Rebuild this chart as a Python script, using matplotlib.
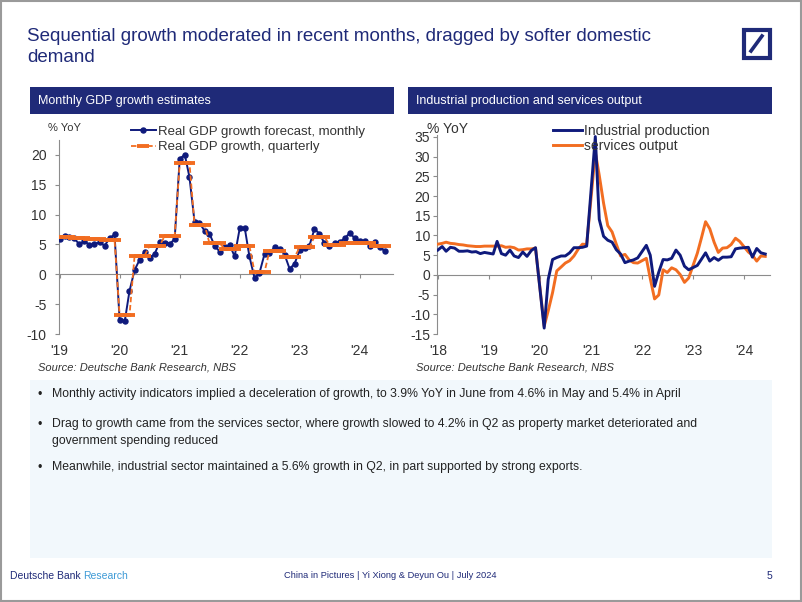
import numpy as np
import pandas as pd
import matplotlib
matplotlib.use("Agg")
import matplotlib.pyplot as plt
import matplotlib.patches as mpatches
from matplotlib import font_manager

# ---- data -------------------------------------------------------------
gdp_monthly = [
    5.9, 6.4, 6.3, 6.0, 5.0, 5.6, 4.9, 5.0, 5.4, 4.8, 6.0, 6.7,          # 2019
    -7.6, -7.9, -2.8, 0.7, 2.4, 3.8, 2.8, 3.4, 5.4, 5.3, 5.1, 5.9,       # 2020
    19.4, 20.0, 16.3, 8.8, 8.6, 7.3, 6.8, 4.8, 3.8, 4.6, 4.9, 3.0,       # 2021
    7.7, 7.7, 3.0, -0.6, 0.2, 3.4, 3.6, 4.5, 4.3, 3.3, 0.9, 1.8,         # 2022
    4.0, 4.4, 4.8, 7.6, 6.8, 5.2, 4.7, 5.3, 5.4, 6.0, 6.9, 6.1,          # 2023
    5.6, 5.6, 4.8, 5.4, 4.6, 3.9,                                        # 2024
]
gdp_quarterly = [6.3, 6.0, 5.9, 5.8, -6.9, 3.1, 4.8, 6.4, 18.7, 8.3, 5.2, 4.3,
                 4.8, 0.4, 3.9, 2.9, 4.5, 6.3, 4.9, 5.2, 5.3, 4.7]

nan = np.nan
industrial = [
    6.3, 7.2, 6.0, 7.0, 6.8, 6.0, 6.0, 6.1, 5.8, 5.9, 5.4, 5.7,          # 2018
    nan, 5.3, 8.5, 5.4, 5.0, 6.3, 4.8, 4.4, 5.8, 4.7, 6.2, 6.9,          # 2019
    nan, -13.5, -1.1, 3.9, 4.4, 4.8, 4.8, 5.6, 6.9, 6.9, 7.0, 7.3,       # 2020
    nan, 35.1, 14.1, 9.8, 8.8, 8.3, 6.4, 5.3, 3.1, 3.5, 3.8, 4.3,        # 2021
    nan, 7.5, 5.0, -2.9, 0.7, 3.9, 3.8, 4.2, 6.3, 5.0, 2.2, 1.3,         # 2022
    nan, 2.4, 3.9, 5.6, 3.5, 4.4, 3.7, 4.5, 4.5, 4.6, 6.6, 6.8,          # 2023
    nan, 7.0, 4.5, 6.7, 5.6, 5.3,                                        # 2024
]
services = [
    7.8, 8.0, 8.3, 8.0, 7.9, 7.7, 7.6, 7.4, 7.3, 7.2, 7.2, 7.3,          # 2018
    nan, 7.3, 7.3, 7.4, 7.0, 7.1, 6.9, 6.3, 6.4, 6.6, 6.6, 6.8,          # 2019
    nan, -13.0, -9.1, -4.5, 1.0, 2.0, 3.0, 3.6, 4.8, 6.5, 7.8, 7.7,      # 2020
    nan, 31.1, 25.3, 18.2, 12.5, 10.9, 7.8, 4.8, 5.2, 3.8, 3.1, 3.0,     # 2021
    nan, 4.2, -0.9, -6.1, -5.1, 1.3, 0.6, 1.8, 1.3, 0.1, -1.9, -0.8,     # 2022
    nan, 5.5, 9.2, 13.5, 11.7, 8.3, 5.7, 6.8, 6.9, 7.7, 9.3, 8.5,        # 2023
    nan, 5.8, 5.0, 3.5, 4.8, 4.7,                                        # 2024
]

left_years = ["'19", "'20", "'21", "'22", "'23", "'24"]
right_years = ["'18", "'19", "'20", "'21", "'22", "'23", "'24"]

title = "Sequential growth moderated in recent months, dragged by softer domestic\ndemand"
bullets = [
    "Monthly activity indicators implied a deceleration of growth, to 3.9% YoY in June from 4.6% in May and 5.4% in April",
    "Drag to growth came from the services sector, where growth slowed to 4.2% in Q2 as property market deteriorated and\ngovernment spending reduced",
    "Meanwhile, industrial sector maintained a 5.6% growth in Q2, in part supported by strong exports.",
]

# ---- style -------------------------------------------------------------
NAVY = "#1f2a78"
LINE_NAVY = "#0f1a7c"
ORANGE = "#f26d21"
GREY = "#8c8c8c"
TXT = "#333333"

_names = {f.name for f in font_manager.fontManager.ttflist}
NARROW = "Liberation Sans Narrow" if "Liberation Sans Narrow" in _names else "Liberation Sans"
CHART = "Liberation Sans"
plt.rcParams["font.family"] = [CHART, "DejaVu Sans"]
plt.rcParams["axes.unicode_minus"] = False

W, H = 802, 602


def rect(x0, y0, x1, y1):
    """pixel box (top-left origin) -> figure fraction [l, b, w, h]"""
    return [x0 / W, 1 - y1 / H, (x1 - x0) / W, (y1 - y0) / H]


def fx(x):
    return x / W


def fy(y):
    return 1 - y / H


fig = plt.figure(figsize=(W / 100, H / 100), dpi=100)
fig.patch.set_facecolor("white")

# page frame
fig.patches.append(mpatches.Rectangle((0.001, 0.001), 0.998, 0.997, transform=fig.transFigure,
                                      fill=False, edgecolor="#9a9a9a", linewidth=1.5))

# title
fig.text(fx(27), fy(28), title, family=NARROW, fontsize=13.5, color=NAVY,
         va="top", ha="left", linespacing=1.3)

# logo
fig.patches.append(mpatches.Rectangle((fx(744), fy(58)), 26 / W, 28 / H, transform=fig.transFigure,
                                      fill=False, edgecolor=NAVY, linewidth=3))
fig.lines.append(plt.Line2D([fx(751), fx(762)], [fy(51), fy(36)], transform=fig.transFigure,
                            color=NAVY, linewidth=2.6))

# panel headers
for x0, x1, label in [(30, 394, "Monthly GDP growth estimates"),
                      (408, 772, "Industrial production and services output")]:
    fig.patches.append(mpatches.Rectangle((fx(x0), fy(114)), (x1 - x0) / W, 27 / H,
                                          transform=fig.transFigure, facecolor=NAVY,
                                          edgecolor="none"))
    fig.text(fx(x0 + 8), fy(101), label, family=NARROW, fontsize=9, color="white",
             va="center", ha="left")

# ---- left chart -------------------------------------------------------
m_dates = pd.date_range("2019-01-01", periods=len(gdp_monthly), freq="MS")
q_values = np.repeat(gdp_quarterly, 3)[:len(gdp_monthly)]

ax1 = fig.add_axes(rect(59, 140, 393, 334))
ax1.plot(m_dates, gdp_monthly, color=LINE_NAVY, linewidth=1.4, marker="o",
         markersize=3.6, label="Real GDP growth forecast, monthly", zorder=3)
ax1.plot(m_dates, q_values, color=ORANGE, linewidth=1.3, linestyle=(0, (3, 1.5)),
         marker="_", markersize=8, markeredgewidth=2.8,
         label="Real GDP growth, quarterly", zorder=4)

ax1.set_ylim(-10, 22.5)
ax1.set_yticks([-10, -5, 0, 5, 10, 15, 20])
ax1.set_xlim(pd.Timestamp("2018-12-28"), pd.Timestamp("2024-07-22"))
ax1.set_xticks(pd.date_range("2019-01-01", "2024-01-01", freq="YS"))
ax1.set_xticklabels(left_years)

# ---- right chart ------------------------------------------------------
r_dates = pd.date_range("2018-01-01", periods=len(industrial), freq="MS")
ip = pd.Series(industrial, index=r_dates).dropna()
sv = pd.Series(services, index=r_dates).dropna()

ax2 = fig.add_axes(rect(437, 135, 770, 334))
ax2.plot(sv.index, sv.values, color=ORANGE, linewidth=2.1, zorder=3)
ax2.plot(ip.index, ip.values, color=LINE_NAVY, linewidth=2.1, zorder=4)
ax2.set_ylim(-15, 35.5)
ax2.set_yticks(np.arange(-15, 36, 5))
ax2.set_xlim(pd.Timestamp("2017-12-26"), pd.Timestamp("2024-07-05"))
ax2.set_xticks(pd.date_range("2018-01-01", "2024-01-01", freq="YS"))
ax2.set_xticklabels(right_years)

for ax, xpad, ypad in [(ax1, 47, 6), (ax2, 47, 2)]:
    for s in ["top", "right"]:
        ax.spines[s].set_visible(False)
    ax.spines["left"].set_color(GREY)
    ax.spines["bottom"].set_color(GREY)
    ax.spines["bottom"].set_position(("data", 0))
    ax.set_facecolor("none")
    ax.tick_params(axis="y", direction="out", length=3, color=GREY, labelsize=10,
                   labelcolor=TXT, pad=ypad)
    ax.tick_params(axis="x", direction="out", length=3, color=GREY, labelsize=10,
                   labelcolor=TXT, pad=xpad)

fig.text(fx(48), fy(128), "% YoY", fontsize=8, color=TXT, va="center", ha="left")
fig.text(fx(427), fy(129), "% YoY", fontsize=10, color=TXT, va="center", ha="left")

ax1.legend(loc="upper left", bbox_to_anchor=(fx(124), fy(119)), bbox_transform=fig.transFigure,
           frameon=False, fontsize=9.5, handlelength=1.9, handletextpad=0.2,
           labelspacing=0.25, borderpad=0, labelcolor=TXT)
h_ip = plt.Line2D([], [], color=LINE_NAVY, linewidth=2.1)
h_sv = plt.Line2D([], [], color=ORANGE, linewidth=2.1)
ax2.legend([h_ip, h_sv], ["Industrial production", "services output"], loc="upper left",
           bbox_to_anchor=(fx(546), fy(117)), bbox_transform=fig.transFigure,
           frameon=False, fontsize=10, handlelength=2.1, handletextpad=0.15,
           labelspacing=0.1, borderpad=0, labelcolor=TXT)

# sources
for x in (38, 416):
    fig.text(fx(x), fy(368), "Source: Deutsche Bank Research, NBS", fontsize=8, style="italic",
             color=TXT, va="center", ha="left")

# ---- bullet box -------------------------------------------------------
fig.patches.append(mpatches.Rectangle((fx(30), fy(558)), 742 / W, 178 / H,
                                      transform=fig.transFigure, facecolor="#f2f8fc",
                                      edgecolor="none"))
for y, text in zip([395, 425, 468], bullets):
    fig.text(fx(38), fy(y), "•", family=NARROW, fontsize=9, color="#222222",
             va="center", ha="left")
    fig.text(fx(52), fy(y - 7), text, family=NARROW, fontsize=8.8, color="#222222",
             va="top", ha="left", linespacing=1.55)

# ---- footer ------------------------------------------------------------
t = fig.text(fx(10), fy(576), "Deutsche Bank ", family=NARROW, fontsize=7.5, color=NAVY,
             va="center", ha="left")
fig.canvas.draw()
bb = t.get_window_extent()
fig.text(bb.x1 / W, fy(576), "Research", family=NARROW, fontsize=7.5, color="#3d9ad6",
         va="center", ha="left")
fig.text(fx(390), fy(576), "China in Pictures | Yi Xiong & Deyun Ou | July 2024", family=NARROW,
         fontsize=6.7, color=NAVY, va="center", ha="center")
fig.text(fx(772), fy(576), "5", family=NARROW, fontsize=7.5, color=NAVY, va="center", ha="right")

fig.savefig("out.png", dpi=100, facecolor="white")
